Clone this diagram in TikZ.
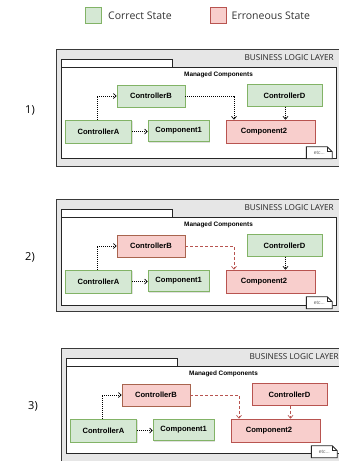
\documentclass[tikz,border=0pt]{standalone}
\usepackage{fontspec}
\setmainfont{Open Sans}
\newfontfamily\arialfont{Liberation Sans}
\usetikzlibrary{arrows.meta,shadows}
\definecolor{gfill}{HTML}{D5E8D4}
\definecolor{gline}{HTML}{82B366}
\definecolor{rfill}{HTML}{F8CECC}
\definecolor{rline}{HTML}{B85450}
\definecolor{bline}{HTML}{A8644E}
\definecolor{pkgfill}{HTML}{E6E6E6}
\definecolor{pkgline}{HTML}{3A3A3A}
\tikzset{
  boxbase/.style={draw, line width=0.9pt, inner sep=0pt, minimum height=22pt,
    font=\arialfont\bfseries\fontsize{7.6}{9}\selectfont,
    drop shadow={shadow xshift=1.2pt, shadow yshift=-1.2pt, fill=black, opacity=0.12}},
  good/.style={boxbase, fill=gfill, draw=gline},
  bad/.style={boxbase, fill=rfill, draw=rline},
  badb/.style={boxbase, fill=rfill, draw=bline},
  blk/.style={line width=0.8pt, black, dash pattern=on 1pt off 1pt,
    -{Straight Barb[length=2.6pt,width=5pt,line width=0.7pt]}},
  red/.style={line width=0.8pt, rline, dash pattern=on 3pt off 2pt,
    -{Straight Barb[length=2.6pt,width=5pt,line width=0.7pt]}},
  pkgout/.style={draw=pkgline, fill=pkgfill, line width=1pt},
  pkgin/.style={draw=black!85, fill=white, line width=1pt},
  ttl/.style={font=\fontsize{8.2}{10}\selectfont, text=black!85, inner sep=0pt},
  mc/.style={font=\arialfont\bfseries\fontsize{6.4}{8}\selectfont, inner sep=0pt},
  notebox/.style={inner sep=0pt, minimum width=25.5pt, minimum height=11.5pt,
    font=\arialfont\fontsize{5}{6}\selectfont, text=black!60},
  lgbox/.style={draw, line width=1pt, minimum size=16pt, inner sep=0pt},
  lgtext/.style={font=\fontsize{10.5}{12}\selectfont, text=black!80, inner sep=0pt, anchor=west},
  num/.style={font=\fontsize{11}{13}\selectfont, inner sep=0pt}
}
% #1 suffix, #2 B style, #3 D style, #4 B->C2 arrow, #5 D->C2 arrow, #6 inner bottom, #7 outer bottom
\newcommand\drawpanel[7]{%
  \draw[pkgout] (0,0) rectangle (300,#7);
  \draw[pkgin] (5,18) rectangle (280,#6);
  \draw[pkgin] (5,10) rectangle (116,18);
  \node[ttl, anchor=east] (t#1) at (278,8.5) {BUSINESS LOGIC LAYER};
  \node[mc] (m#1) at (162.5,25.5) {Managed Components};
  \node[good, minimum width=66pt, minimum height=23pt] (A#1) at (42.5,82.5) {ControllerA};
  \node[#2, minimum width=68pt] (B#1) at (95,47) {ControllerB};
  \node[#3, minimum width=75pt, minimum height=21.5pt] (D#1) at (228.5,46.5) {ControllerD};
  \node[good, minimum width=61pt, minimum height=21.5pt] (Ca#1) at (122.7,81.8) {Component1};
  \node[bad, minimum width=89pt, minimum height=23pt] (Cb#1) at (214.5,82.5) {Component2\hspace*{13pt}};
  \node[notebox] (e#1) at (263.3,103.7) {etc...};
  \draw[draw=black!85, fill=white, line width=0.8pt] (e#1.south west) -- (e#1.north west)
     -- ([xshift=-5pt]e#1.north east) -- ([yshift=-5pt]e#1.north east) -- (e#1.south east) -- cycle;
  \draw[black!85, line width=0.8pt] ([xshift=-5pt]e#1.north east) -- ([xshift=-5pt,yshift=-5pt]e#1.north east)
     -- ([yshift=-5pt]e#1.north east);
  \node[notebox] at (e#1) {etc...};
  \draw[blk] ([xshift=-1.5pt]A#1.north) |- (B#1.west);
  \draw[blk] (A#1.east) -- (A#1.east -| Ca#1.west);
  \draw[#4] (B#1.east) -| ([xshift=-36.5pt]Cb#1.north);
  \draw[#5] ([xshift=1pt]D#1.south) -- ([xshift=1pt]D#1.south |- Cb#1.north);
}
\begin{document}
\begin{tikzpicture}[x=1pt,y=-1pt]
\useasboundingbox (0,0) rectangle (339,461);
\clip (0,0) rectangle (339,461);
% legend
\node[lgbox, fill=gfill, draw=gline] (lg) at (93.5,15.5) {};
\node[lgtext] (lgt) at (108,16) {Correct State};
\node[lgbox, fill=rfill, draw=rline] (lr) at (218,15.5) {};
\node[lgtext] (lrt) at (231.5,16) {Erroneous State};
% panel labels
\node[num] (n1) at (30,110) {1)};
\node[num] (n2) at (30,257) {2)};
\node[num] (n3) at (33,406) {3)};
\begin{scope}[shift={(56,49)}]
  \drawpanel{1}{good}{good}{blk}{blk}{109}{117}
\end{scope}
\begin{scope}[shift={(56,199)}]
  \drawpanel{2}{badb}{good}{red}{blk}{106}{112}
\end{scope}
\begin{scope}[shift={(61,348)}]
  \drawpanel{3}{badb}{bad}{red}{red}{105}{125}
\end{scope}
\end{tikzpicture}
\end{document}
